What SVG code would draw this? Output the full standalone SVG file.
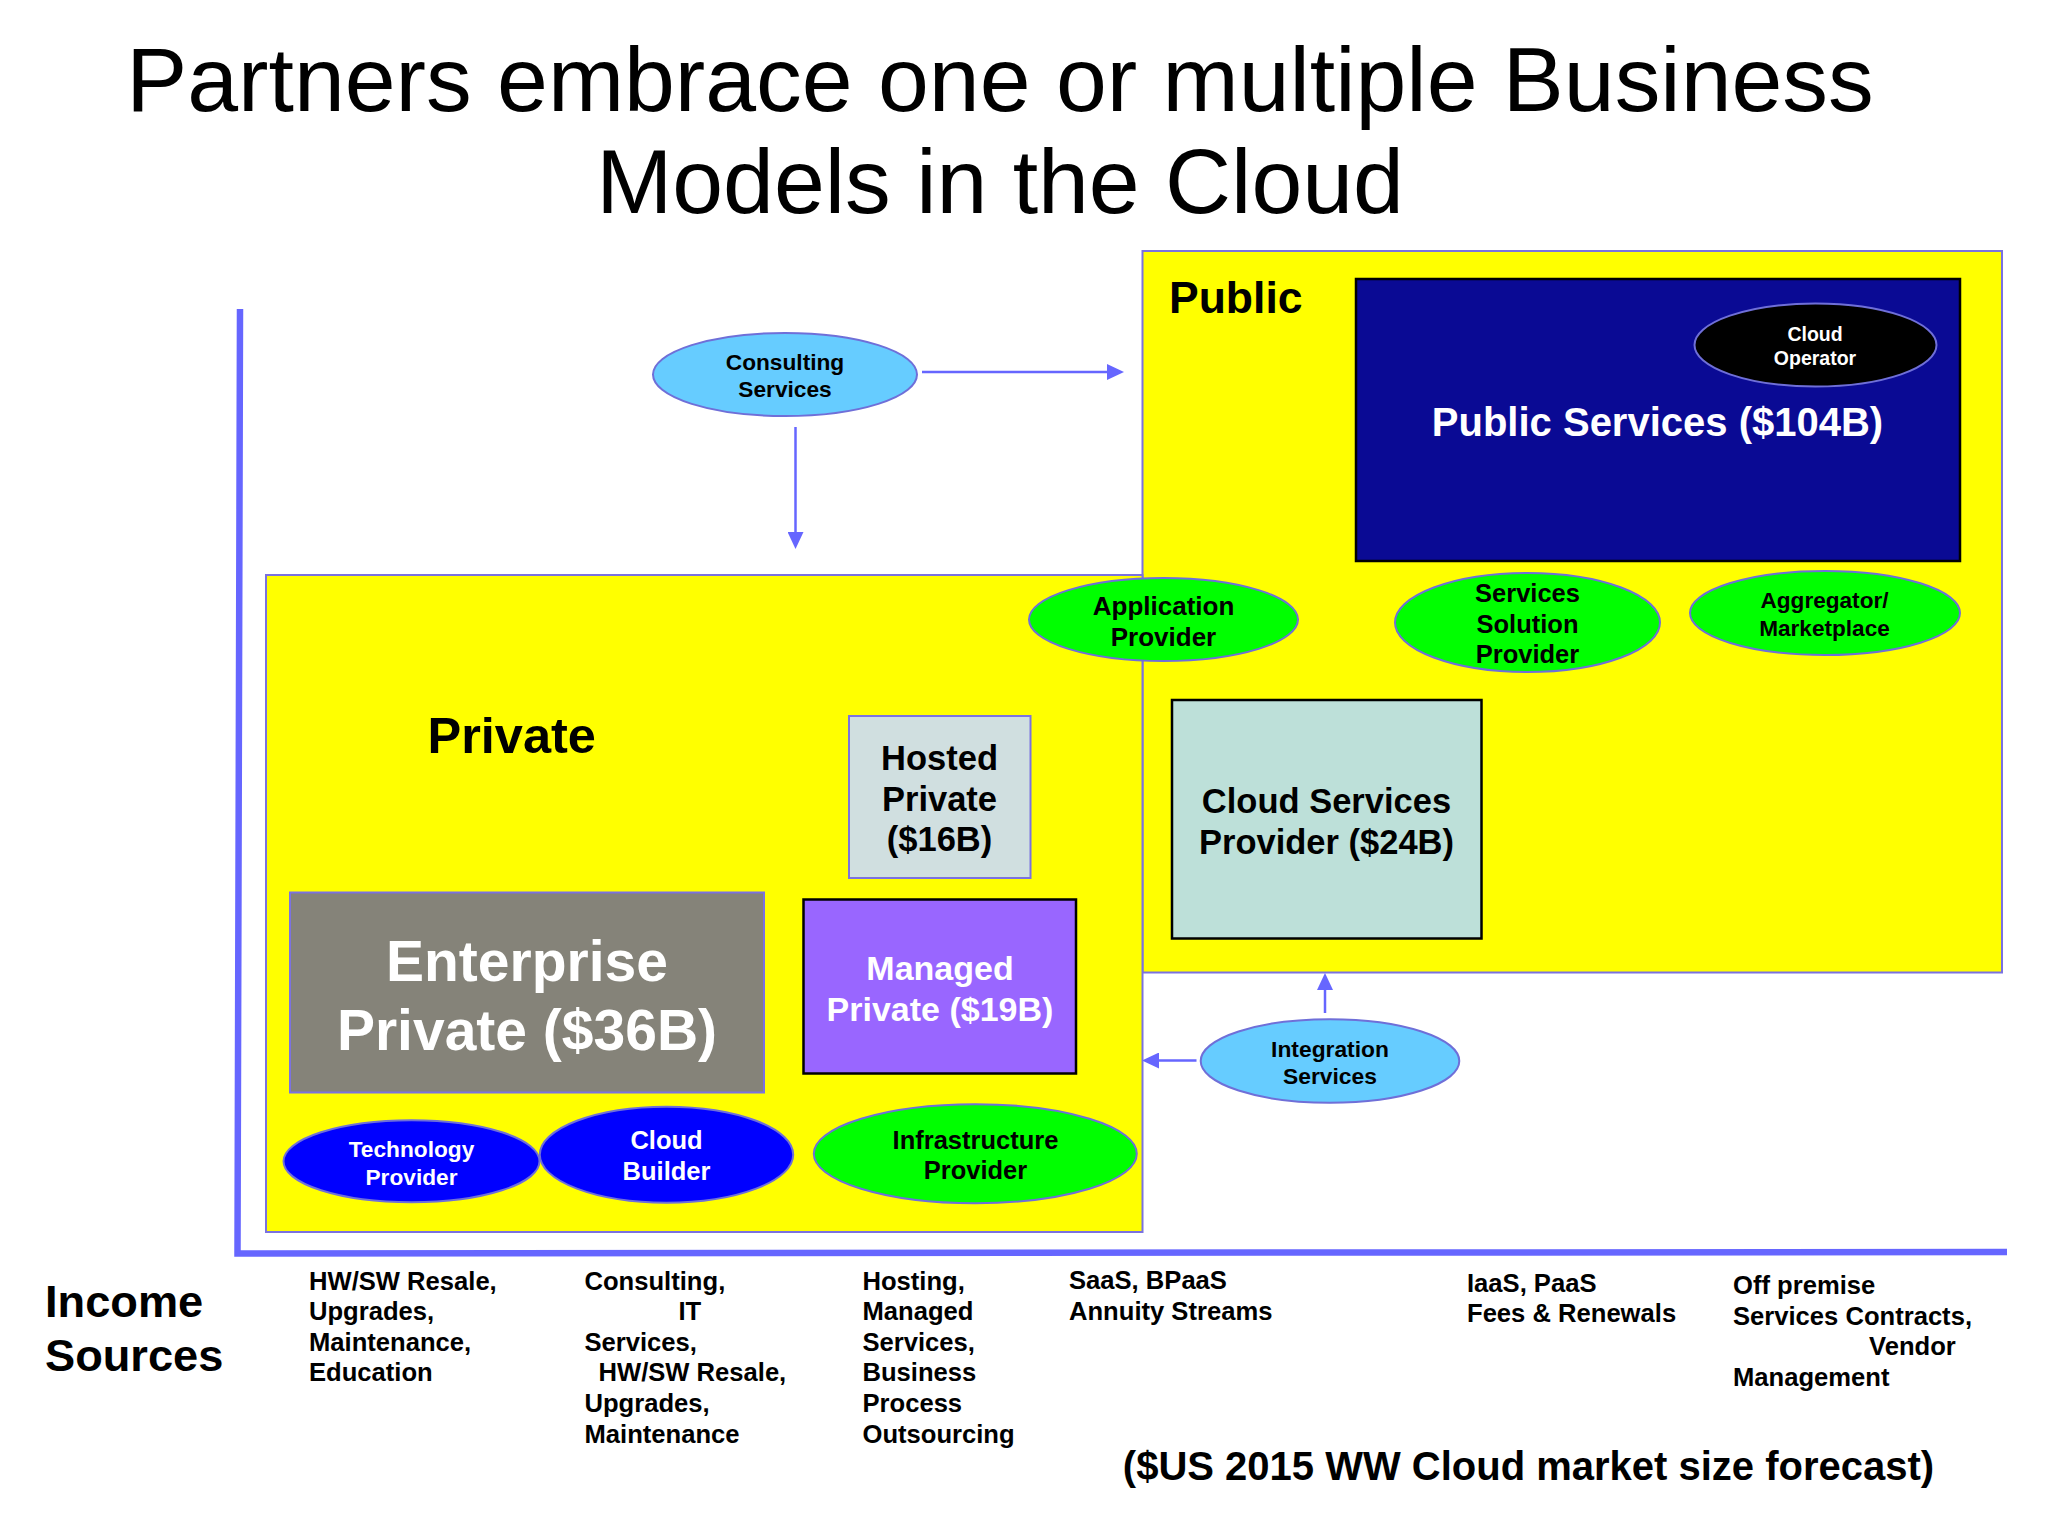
<svg xmlns="http://www.w3.org/2000/svg" width="2048" height="1536" viewBox="0 0 2048 1536">
<style>
text{font-family:"Liberation Sans",Arial,sans-serif;font-weight:bold;fill:#000}
.c{text-anchor:middle}
.w{fill:#fff}
.title{font-weight:normal;font-size:91.400px}
.zone{fill:#ffff00;stroke:#7b72e0;stroke-width:2}
.box{stroke:#000;stroke-width:2.500}
.soft{stroke:#7b72e0;stroke-width:2}
.el{stroke:#6f6fd8;stroke-width:2}
.green{fill:#00ff00}.blue{fill:#0000ff}.sky{fill:#66ccff}
.inc{font-size:25.600px}
.conn{stroke:#6666ff;stroke-width:2.500;fill:none}
.axis{stroke:#6666ff;stroke-width:6.500;fill:none}
</style>
<defs>
<marker id="ah" markerUnits="userSpaceOnUse" markerWidth="17" markerHeight="16" refX="0" refY="8" orient="auto"><path d="M0,0L17,8L0,16Z" fill="#6666ff"/></marker>
</defs>
<rect width="2048" height="1536" fill="#fff"/>
<g id="title">
<text class="c title" x="1000" y="111">Partners embrace one or multiple Business</text>
<text class="c title" x="1000" y="213">Models in the Cloud</text>
</g>
<g id="axes"><path class="axis" d="M240,309L237.500,1253.500L2007,1252"/></g>
<g id="zone-public"><rect class="zone" x="1142.500" y="251" width="859.500" height="721.500"/>
<text x="1169" y="312.500" font-size="44.500">Public</text></g>
<g id="zone-private"><rect class="zone" x="266" y="575" width="876.500" height="657"/>
<text x="427.500" y="753" font-size="50.500">Private</text></g>
<g id="public-services"><rect class="box" x="1356" y="279" width="604" height="282" fill="#0a0a94"/>
<text class="c w" x="1657.500" y="436" font-size="40">Public Services ($104B)</text></g>
<g id="cloud-operator"><ellipse class="el" cx="1815.500" cy="345" rx="121" ry="41.500" fill="#000"/>
<text class="c w" font-size="19.500"><tspan x="1815" y="341">Cloud</tspan><tspan x="1815" y="365">Operator</tspan></text></g>
<g id="application-provider"><ellipse class="el green" cx="1163.500" cy="619.500" rx="134.500" ry="41.500"/>
<text class="c" font-size="26"><tspan x="1163.500" y="615">Application</tspan><tspan x="1163.500" y="645.500">Provider</tspan></text></g>
<g id="services-solution-provider"><ellipse class="el green" cx="1527.500" cy="622.500" rx="132.500" ry="49.500"/>
<text class="c" font-size="25.500"><tspan x="1527.500" y="601.500">Services</tspan><tspan x="1527.500" y="632.500">Solution</tspan><tspan x="1527.500" y="663">Provider</tspan></text></g>
<g id="aggregator-marketplace"><ellipse class="el green" cx="1825" cy="613" rx="135" ry="42"/>
<text class="c" font-size="22.600"><tspan x="1824.500" y="608">Aggregator/</tspan><tspan x="1824.500" y="635.500">Marketplace</tspan></text></g>
<g id="cloud-services-provider"><rect class="box" x="1172" y="700" width="309.500" height="238.500" fill="#bde0d9"/>
<text class="c" font-size="34.500"><tspan x="1326.500" y="812.500">Cloud Services</tspan><tspan x="1326.500" y="853.500">Provider ($24B)</tspan></text></g>
<g id="hosted-private"><rect class="soft" x="849" y="716" width="181.500" height="162" fill="#d0dfe0"/>
<text class="c" font-size="34.500"><tspan x="939.500" y="770">Hosted</tspan><tspan x="939.500" y="811">Private</tspan><tspan x="939.500" y="851">($16B)</tspan></text></g>
<g id="managed-private"><rect class="box" x="803.500" y="899.500" width="272.500" height="174" fill="#9966ff"/>
<text class="c w" font-size="34"><tspan x="940" y="979.500">Managed</tspan><tspan x="940" y="1020.500">Private ($19B)</tspan></text></g>
<g id="enterprise-private"><rect class="soft" x="290" y="892.500" width="474" height="200" fill="#858379"/>
<text class="c w" font-size="57"><tspan x="527" y="981">Enterprise</tspan><tspan x="527" y="1049.500">Private ($36B)</tspan></text></g>
<g id="technology-provider"><ellipse class="el blue" cx="411.500" cy="1161.300" rx="128" ry="41"/>
<text class="c w" font-size="22.700"><tspan x="411.500" y="1157.300">Technology</tspan><tspan x="411.500" y="1184.500">Provider</tspan></text></g>
<g id="cloud-builder"><ellipse class="el blue" cx="666.500" cy="1154.700" rx="126.700" ry="48"/>
<text class="c w" font-size="25.500"><tspan x="666.500" y="1149.300">Cloud</tspan><tspan x="666.500" y="1180.300">Builder</tspan></text></g>
<g id="infrastructure-provider"><ellipse class="el green" cx="975.300" cy="1153.700" rx="161.500" ry="49.500"/>
<text class="c" font-size="25.500"><tspan x="975.500" y="1149">Infrastructure</tspan><tspan x="975.500" y="1179">Provider</tspan></text></g>
<g id="consulting-services"><ellipse class="el sky" cx="785" cy="374.500" rx="132" ry="41.500"/>
<text class="c" font-size="22.700"><tspan x="785" y="370">Consulting</tspan><tspan x="785" y="397">Services</tspan></text></g>
<g id="integration-services"><ellipse class="el sky" cx="1330" cy="1061" rx="129.300" ry="41.800"/>
<text class="c" font-size="22.800"><tspan x="1330" y="1057">Integration</tspan><tspan x="1330" y="1084.200">Services</tspan></text></g>
<g id="connectors">
<path class="conn" d="M922,372H1107" marker-end="url(#ah)"/>
<path class="conn" d="M795.500,427V532" marker-end="url(#ah)"/>
<path class="conn" d="M1325,1013V990" marker-end="url(#ah)"/>
<path class="conn" d="M1196.500,1060.500H1159" marker-end="url(#ah)"/>
</g>
<g id="income-sources">
<text font-size="45.200"><tspan x="45" y="1317">Income</tspan><tspan x="45" y="1371">Sources</tspan></text>
<text class="inc"><tspan x="309" y="1289.500">HW/SW Resale,</tspan><tspan x="309" y="1320">Upgrades,</tspan><tspan x="309" y="1350.700">Maintenance,</tspan><tspan x="309" y="1381">Education</tspan></text>
<text class="inc"><tspan x="584.500" y="1289.500">Consulting,</tspan><tspan x="678.500" y="1320">IT</tspan><tspan x="584.500" y="1350.700">Services,</tspan><tspan x="598.500" y="1381">HW/SW Resale,</tspan><tspan x="584.500" y="1412">Upgrades,</tspan><tspan x="584.500" y="1442.700">Maintenance</tspan></text>
<text class="inc"><tspan x="862.500" y="1289.500">Hosting,</tspan><tspan x="862.500" y="1320">Managed</tspan><tspan x="862.500" y="1350.700">Services,</tspan><tspan x="862.500" y="1381">Business</tspan><tspan x="862.500" y="1412">Process</tspan><tspan x="862.500" y="1442.700">Outsourcing</tspan></text>
<text class="inc"><tspan x="1069" y="1289">SaaS, BPaaS</tspan><tspan x="1069" y="1319.600">Annuity Streams</tspan></text>
<text class="inc"><tspan x="1467" y="1291.500">IaaS, PaaS</tspan><tspan x="1467" y="1321.600">Fees &amp; Renewals</tspan></text>
<text class="inc"><tspan x="1733" y="1294">Off premise</tspan><tspan x="1733" y="1324.700">Services Contracts,</tspan><tspan x="1869" y="1355.400">Vendor</tspan><tspan x="1733" y="1385.600">Management</tspan></text>
<text class="c" x="1528.500" y="1480" font-size="40">($US 2015 WW Cloud market size forecast)</text>
</g>
</svg>
